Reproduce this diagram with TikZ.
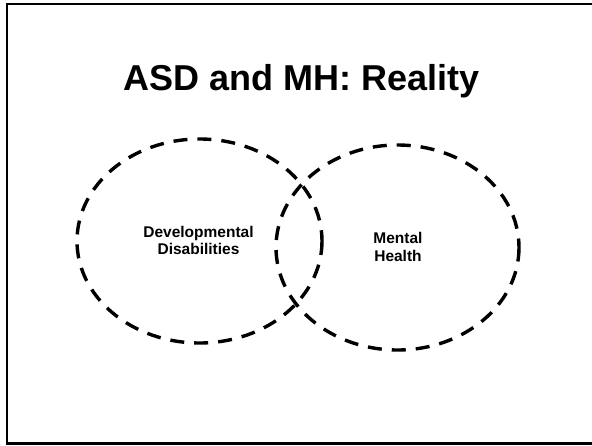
\documentclass[tikz,border=0pt]{standalone}
\usepackage{fontspec}
\setmainfont{Liberation Sans}
\usetikzlibrary{calc}
\tikzset{
	venn/.style={line width=3.4pt, dash pattern=on 14pt off 10pt},
	vennlabel/.style={font=\bfseries\fontsize{15.5}{17.5}\selectfont, align=center}
}

\begin{document}
\begin{tikzpicture}[x=1pt, y=-1pt]
		%%%%% START %%%%%
		
		\useasboundingbox (0, 0) rectangle (592, 445);
		
		\draw[line width=2.2pt] (595, 4) -- (7, 4) -- (7, 443.5) -- (595, 443.5);
		
		\node[anchor=base, font=\bfseries\fontsize{36}{40}\selectfont] (title) at (301.5, 90) {ASD and MH: Reality};
		
		\draw[venn] (199.5, 241) ellipse (122.5 and 102);
		\draw[venn] (397.5, 247.5) ellipse (121.5 and 102.5);
		
		\node[vennlabel] (dd) at (198.5, 240.5) {Developmental\\Disabilities};
		\node[vennlabel] (mh) at (398, 247) {Mental\\Health};
		
		%%%%% END %%%%%
	\end{tikzpicture}
\end{document}
